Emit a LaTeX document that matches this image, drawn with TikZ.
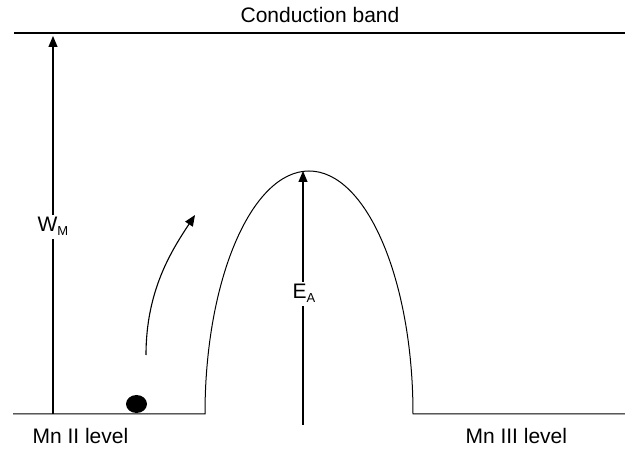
\documentclass[tikz,border=0pt]{standalone}
\usepackage{fontspec}
\setmainfont{Liberation Sans}
\usetikzlibrary{arrows.meta,shapes.geometric}
\newcommand\lowsub[1]{\raisebox{-4pt}{\fontsize{13}{13}\selectfont #1}}
\begin{document}
\begin{tikzpicture}[x=1pt,y=-1pt,line width=1.1pt,
  lbl/.style={font=\fontsize{21}{25}\selectfont, inner sep=0pt},
  sym/.style={font=\fontsize{21}{25}\selectfont, inner sep=2pt},
  tip/.style={-{Triangle[length=11pt,width=9pt]}}]
\useasboundingbox (0,0) rectangle (625,449);
% conduction band
\coordinate (tl) at (14,33);
\coordinate (tr) at (625,33);
\draw (tl) -- (tr);
\node[lbl, anchor=base] (cb) at (320,23) {Conduction band};
% W_M arrow
\coordinate (wb) at (53,414);
\coordinate (wt) at (53,36);
\node[sym, anchor=base] (wm) at (53,232) {W\lowsub{M}};
\draw (wb) -- (wm.south -| wb);
\draw[tip] (wm.north -| wb) -- (wt);
% levels and barrier
\coordinate (bl) at (13,414);
\coordinate (bm) at (205,414);
\coordinate (br) at (625,414);
\draw[line width=1pt] (bl) -- (bm) arc[start angle=180,end angle=360,x radius=104,y radius=243] -- (br);
% electron
\node[ellipse, fill=black, minimum width=21pt, minimum height=18pt, inner sep=0pt] (dot) at (136.5,404) {};
% curved arrow
\coordinate (cs) at (146,355);
\coordinate (ce) at (195,215);
\draw[tip] (cs) .. controls (146,290) and (172,250) .. (ce);
% E_A arrow
\coordinate (eb) at (303,425);
\coordinate (et) at (303,171);
\node[sym, anchor=base] (ea) at (304,299) {E\lowsub{A}};
\draw (eb) -- (ea.south -| eb);
\draw[tip] (ea.north -| eb) -- (et);
% labels
\node[lbl, anchor=base west] (mn2) at (32,444) {Mn II level};
\node[lbl, anchor=base west] (mn3) at (465,444) {Mn III level};
\end{tikzpicture}
\end{document}
